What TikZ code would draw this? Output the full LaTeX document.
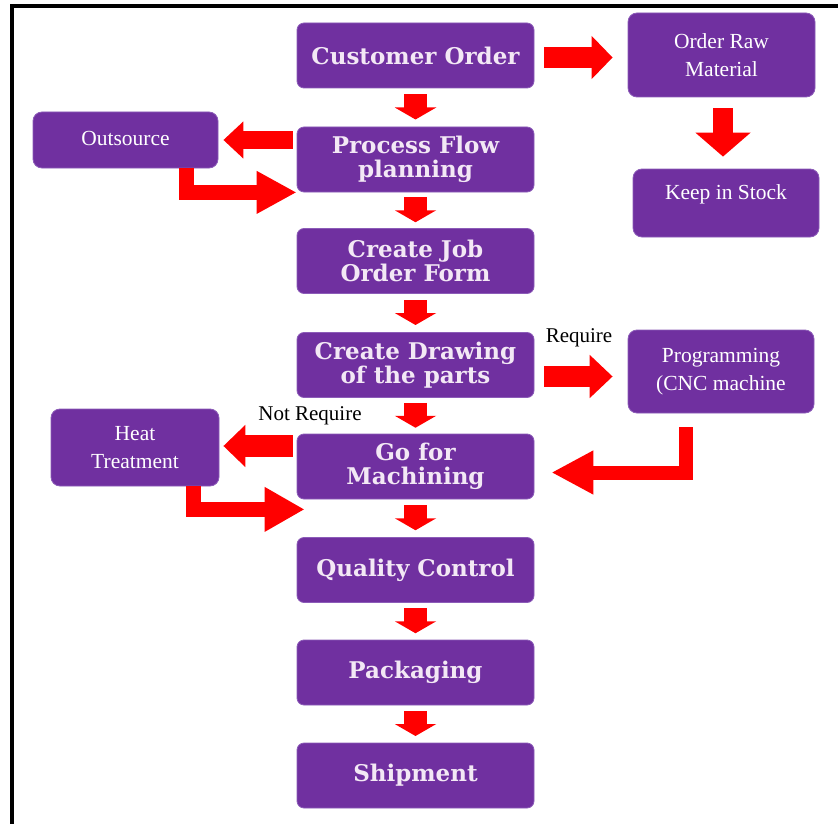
\documentclass[tikz,border=0pt]{standalone}
\usepackage{fontspec}
\setmainfont{Liberation Serif}
\newfontfamily\sidefont{Liberation Serif}
\newfontfamily\mainboxfont{DejaVu Serif}
\usetikzlibrary{arrows.meta,calc}
\definecolor{boxpurple}{HTML}{7030A0}
\definecolor{boxedge}{HTML}{8C5CB8}
\definecolor{arrred}{HTML}{FF0000}
\definecolor{boxtext}{HTML}{F3E8F5}
\begin{document}
\begin{tikzpicture}[x=1pt,y=-1pt,
  mainbox/.style={rectangle, rounded corners=7pt, fill=boxpurple, draw=boxedge, line width=0.8pt,
    minimum width=237pt, minimum height=65pt, inner sep=0pt, align=center, text=boxtext,
    font=\mainboxfont\bfseries\fontsize{23}{24}\selectfont},
  sidebox/.style={rectangle, rounded corners=9pt, fill=boxpurple, draw=boxedge, line width=0.8pt,
    inner sep=0pt, align=center, text=white, font=\sidefont\fontsize{21.5}{28}\selectfont},
  lbl/.style={inner sep=0pt, text=black, font=\sidefont\fontsize{21}{24}\selectfont},
  blk/.style n args={3}{draw=arrred, line width=#1pt, -{Triangle[width=#2pt 0 0, length=#3pt 0 0]}},
]
\useasboundingbox (0,0) rectangle (838,824);
\fill[white] (0,0) rectangle (838,824);
% frame
\fill[black] (10,4) rectangle (14,824);
\fill[black] (10,4) rectangle (838,8);

% main column
\node[mainbox] (cust) at (415.5,55.5) {Customer Order};
\node[mainbox] (proc) at (415.5,159.5) {Process Flow\\planning};
\node[mainbox] (job)  at (415.5,261) {Create Job\\Order Form};
\node[mainbox] (drw)  at (415.5,365) {Create Drawing\\of the parts};
\node[mainbox] (mach) at (415.5,466.5) {Go for\\Machining};
\node[mainbox] (qc)   at (415.5,570) {Quality Control};
\node[mainbox] (pack) at (415.5,672.5) {Packaging};
\node[mainbox] (ship) at (415.5,775.5) {Shipment};

% side boxes
\node[sidebox, minimum width=187pt, minimum height=84pt] (raw) at (721.5,55) {Order Raw\\Material};
\node[sidebox, minimum width=186pt, minimum height=68pt] (stock) at (726,203) {\raisebox{22pt}{Keep in Stock}};
\node[sidebox, minimum width=185pt, minimum height=56pt] (out) at (125.5,140) {\raisebox{3pt}{Outsource}};
\node[sidebox, minimum width=186pt, minimum height=83pt] (prog) at (721,371.5) {Programming\\(CNC machine};
\node[sidebox, minimum width=168pt, minimum height=77pt] (heat) at (135,447.5) {Heat\\Treatment};

% labels
\node[lbl] (req) at (579,338) {Require};
\node[lbl] (nreq) at (310,416) {Not Require};

% down arrows in main column
\foreach \a/\b in {cust/proc,proc/job,job/drw,drw/mach,mach/qc,qc/pack,pack/ship}
  \draw[blk={23}{41}{12}] ($(\a.south)!.5!(\b.north)+(0,-13)$) -- ++(0,25);

% side arrows
\draw[blk={21}{42}{21}] ($(cust.east)+(10,2)$) -- ($(raw.west |- cust.east)+(-15,2)$);
\draw[blk={20}{54}{24}] ($(raw.south)+(1.5,11)$) -- ($(stock.north -| raw.south)+(1.5,-12)$);
\draw[blk={18}{36}{20}] ($(proc.west |- out.east)+(-4,0)$) -- ($(out.east)+(5,0)$);
\draw[blk={15}{40}{40}] ($(out.south east)+(-32,0)$) |- (proc.south west);
\draw[blk={21}{42}{23}] ($(drw.east)+(10,11.5)$) -- ($(prog.west |- drw.east)+(-15,11.5)$);
\draw[blk={14}{41}{42}] ($(prog.south)+(-35,14)$) |- ($(mach.east)+(17,6)$);
\draw[blk={22}{41}{22}] ($(mach.west |- heat.east)+(-4,-1.5)$) -- ($(heat.east)+(4,-1.5)$);
\draw[blk={15}{42}{40}] ($(heat.south east)+(-26,0)$) |- ($(mach.south west)+(8,10)$);
\end{tikzpicture}
\end{document}
